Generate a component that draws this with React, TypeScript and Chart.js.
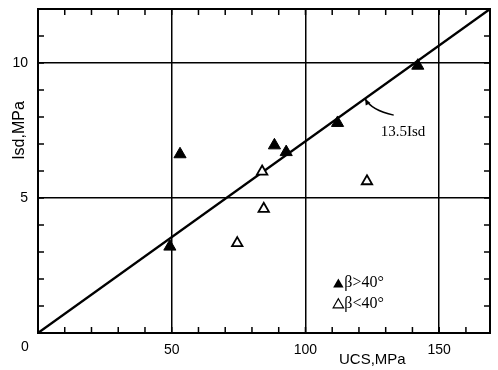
import React, { useEffect, useRef } from "react";
import { Chart, registerables } from "chart.js";

Chart.register(...registerables);

// beta > 40 deg (filled triangles)
const filledUCS = [49.3, 53.1, 88.4, 92.8, 112.0, 142.0];
const filledIsd = [3.2, 6.62, 6.95, 6.7, 7.78, 9.9];
// beta < 40 deg (open triangles)
const openUCS = [74.5, 83.8, 84.4, 123.0];
const openIsd = [3.33, 5.98, 4.6, 5.62];
// fitted line UCS = 13.5 Isd (as drawn)
const lineUCS = [0, 169];
const lineIsd = [0, 12];

const xMajor = [50, 100, 150];
const yMajor = [5, 10];

const SANS = "'Liberation Sans', Arial, sans-serif";
const SERIF = "'Liberation Serif', 'Times New Roman', serif";

const overlay = {
  id: "overlay",
  afterDraw(chart: any) {
    const ctx = chart.ctx;
    const xs = chart.scales.x;
    const ys = chart.scales.y;
    const ca = chart.chartArea;
    ctx.save();
    ctx.strokeStyle = "#000";
    ctx.fillStyle = "#000";
    // frame
    ctx.lineWidth = 2;
    ctx.strokeRect(ca.left, ca.top, ca.right - ca.left, ca.bottom - ca.top);
    // minor ticks inward
    ctx.lineWidth = 1.5;
    ctx.beginPath();
    for (let v = 10; v < 169; v += 10) {
      const px = xs.getPixelForValue(v);
      ctx.moveTo(px, ca.bottom);
      ctx.lineTo(px, ca.bottom - 6);
      ctx.moveTo(px, ca.top);
      ctx.lineTo(px, ca.top + 6);
    }
    for (let v = 1; v < 12; v++) {
      const py = ys.getPixelForValue(v);
      ctx.moveTo(ca.left, py);
      ctx.lineTo(ca.left + 6, py);
      ctx.moveTo(ca.right, py);
      ctx.lineTo(ca.right - 6, py);
    }
    ctx.stroke();

    // origin label
    ctx.font = `14px ${SANS}`;
    ctx.textAlign = "center";
    ctx.textBaseline = "middle";
    ctx.fillText("0", ca.left - 13, ca.bottom + 14);

    // axis titles
    ctx.font = `15px ${SANS}`;
    ctx.fillText("UCS,MPa", xs.getPixelForValue(125), 360);
    ctx.save();
    ctx.translate(20, ys.getPixelForValue(7.5));
    ctx.rotate(-Math.PI / 2);
    ctx.font = `16px ${SANS}`;
    ctx.fillText("Isd,MPa", 0, 0);
    ctx.restore();

    // annotation
    ctx.font = `15px ${SERIF}`;
    ctx.textAlign = "center";
    ctx.fillText("13.5Isd", xs.getPixelForValue(136.5), ys.getPixelForValue(7.44));
    const sx = xs.getPixelForValue(133), sy = ys.getPixelForValue(8.07);
    const cx = xs.getPixelForValue(124.6), cy = ys.getPixelForValue(8.25);
    const ex = xs.getPixelForValue(122.3), ey = ys.getPixelForValue(8.68);
    ctx.lineWidth = 1.5;
    ctx.beginPath();
    ctx.moveTo(sx, sy);
    ctx.quadraticCurveTo(cx, cy, ex, ey);
    ctx.stroke();
    const ang = Math.atan2(ey - cy, ex - cx);
    ctx.beginPath();
    ctx.moveTo(ex, ey);
    ctx.lineTo(ex - 7 * Math.cos(ang - 0.4), ey - 7 * Math.sin(ang - 0.4));
    ctx.lineTo(ex - 7 * Math.cos(ang + 0.4), ey - 7 * Math.sin(ang + 0.4));
    ctx.closePath();
    ctx.fill();

    // legend
    const tri = (x: number, y: number, r: number, fill: boolean) => {
      ctx.beginPath();
      ctx.moveTo(x, y - r);
      ctx.lineTo(x + r * 0.866, y + r * 0.5);
      ctx.lineTo(x - r * 0.866, y + r * 0.5);
      ctx.closePath();
      if (fill) ctx.fill();
      else {
        ctx.lineWidth = 1.2;
        ctx.stroke();
      }
    };
    const lx = xs.getPixelForValue(112.3);
    const ly1 = ys.getPixelForValue(1.85);
    const ly2 = ys.getPixelForValue(1.1);
    tri(lx, ly1 + 1.5, 6, true);
    tri(lx, ly2 + 1.5, 6, false);
    ctx.font = `16px ${SERIF}`;
    ctx.textAlign = "left";
    ctx.fillText("β>40°", lx + 6, ly1);
    ctx.fillText("β<40°", lx + 6, ly2);
    ctx.restore();
  },
};

export default function App() {
  const ref = useRef<HTMLCanvasElement>(null);
  useEffect(() => {
    if (!ref.current) return;
    const toPts = (xs: number[], ys: number[]) => xs.map((x, i) => ({ x, y: ys[i] }));
    const chart = new Chart(ref.current, {
      type: "scatter",
      data: {
        datasets: [
          {
            label: "β>40°",
            data: toPts(filledUCS, filledIsd),
            pointStyle: "triangle",
            pointRadius: 7,
            backgroundColor: "#000",
            borderColor: "#000",
            borderWidth: 1,
          },
          {
            label: "β<40°",
            data: toPts(openUCS, openIsd),
            pointStyle: "triangle",
            pointRadius: 6,
            backgroundColor: "#fff",
            borderColor: "#000",
            borderWidth: 1.8,
          },
          {
            type: "line",
            label: "13.5Isd",
            data: toPts(lineUCS, lineIsd),
            borderColor: "#000",
            borderWidth: 2.3,
            pointRadius: 0,
            showLine: true,
            fill: false,
          } as any,
        ],
      },
      options: {
        animation: false,
        responsive: false,
        layout: { padding: { top: 9, right: 8, left: 0, bottom: 0 } },
        plugins: { legend: { display: false }, tooltip: { enabled: false } },
        scales: {
          x: {
            type: "linear",
            min: 0,
            max: 169,
            border: { display: false },
            grid: {
              drawTicks: false,
              lineWidth: 1.5,
              color: (c: any) => (xMajor.includes(c.tick?.value) ? "#000" : "transparent"),
            },
            ticks: {
              stepSize: 10,
              autoSkip: false,
              maxRotation: 0,
              padding: 9,
              color: "#000",
              font: { family: SANS, size: 14 },
              callback: (v: any) => (xMajor.includes(Number(v)) ? String(v) : ""),
            },
            afterFit: (s: any) => {
              s.height = 37;
              s.paddingLeft = 0;
              s.paddingRight = 0;
            },
          },
          y: {
            type: "linear",
            min: 0,
            max: 12,
            border: { display: false },
            grid: {
              drawTicks: false,
              lineWidth: 1.5,
              color: (c: any) => (yMajor.includes(c.tick?.value) ? "#000" : "transparent"),
            },
            ticks: {
              stepSize: 1,
              autoSkip: false,
              padding: 10,
              color: "#000",
              font: { family: SANS, size: 14 },
              callback: (v: any) => (yMajor.includes(Number(v)) ? String(v) : ""),
            },
            afterFit: (s: any) => {
              s.width = 38;
              s.paddingTop = 0;
              s.paddingBottom = 0;
            },
          },
        },
      },
      plugins: [overlay],
    });
    return () => chart.destroy();
  }, []);
  return (
    <div style={{ position: "absolute", left: 0, top: 0, width: 498, height: 370, background: "#fff" }}>
      <canvas ref={ref} width={498} height={370} />
    </div>
  );
}
